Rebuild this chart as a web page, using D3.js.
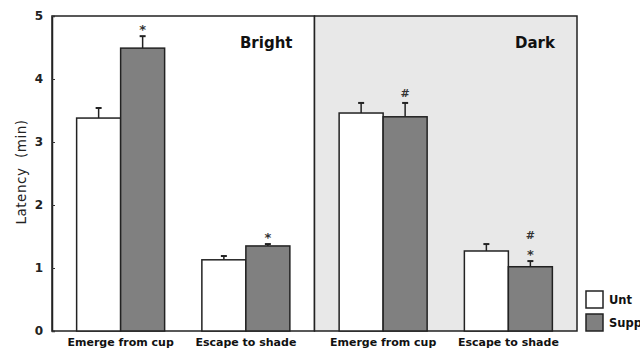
<!DOCTYPE html>
<html>
<head>
<meta charset="utf-8">
<script src="https://cdn.jsdelivr.net/npm/d3@7"></script>
<style>
  body { margin: 0; background: #fff; }
  text { font-family: "DejaVu Sans", Verdana, sans-serif; }
</style>
</head>
<body>
<div id="chart"></div>
<script>
const width = 640
const height = 351
const margin = { top: 16, right: 63, bottom: 20, left: 52 }
const chartW = width - margin.left - margin.right
const chartH = height - margin.top - margin.bottom

// data
const panels = ["Bright", "Dark"]
const tasks = ["Emerge from cup", "Escape to shade"]
const groups = ["Unt", "Supp"]
const untMean = [3.38, 1.13, 3.46, 1.27]
const untErr = [0.16, 0.06, 0.16, 0.11]
const suppMean = [4.49, 1.35, 3.40, 1.02]
const suppErr = [0.19, 0.03, 0.22, 0.09]
const suppMarks = [["*"], ["*"], ["#"], ["*", "#"]]
const yTicks = [0, 1, 2, 3, 4, 5]

let rows = []
panels.forEach((p, pi) => {
  tasks.forEach((t, ti) => {
    let i = pi * 2 + ti
    rows.push({ panel: p, task: t, group: "Unt", value: untMean[i], err: untErr[i], marks: [] })
    rows.push({ panel: p, task: t, group: "Supp", value: suppMean[i], err: suppErr[i], marks: suppMarks[i] })
  })
})

let svg = d3.select("#chart").append("svg")
    .attr("width", width)
    .attr("height", height)

let g = svg.append("g").attr("transform", `translate(${margin.left},${margin.top})`)

let yScale = d3.scaleLinear().domain([0, 5]).range([chartH, 0])
let panelScale = d3.scaleBand().domain(panels).range([0, chartW]).paddingInner(0).paddingOuter(0)
let taskScale = d3.scalePoint().domain(tasks).range([0, panelScale.bandwidth()]).padding(0.548)
let groupScale = d3.scaleBand().domain(groups).range([-44, 44])
let fill = d3.scaleOrdinal().domain(groups).range(["#ffffff", "#808080"])
let panelFill = d3.scaleOrdinal().domain(panels).range(["#ffffff", "#e8e8e8"])

// panel backgrounds
g.selectAll(".panel")
  .data(panels)
  .enter()
  .append("rect")
  .attr("x", d => panelScale(d))
  .attr("y", 0)
  .attr("width", panelScale.bandwidth())
  .attr("height", chartH)
  .attr("fill", d => panelFill(d))
  .attr("stroke", "#222")
  .attr("stroke-width", 1.5)

// panel titles
g.selectAll(".ptitle")
  .data(panels)
  .enter()
  .append("text")
  .attr("x", d => panelScale(d) + panelScale.bandwidth() - 22)
  .attr("y", 32)
  .attr("text-anchor", "end")
  .attr("font-size", 15)
  .attr("font-weight", "bold")
  .attr("fill", "#111")
  .text(d => d)

const xOf = d => panelScale(d.panel) + taskScale(d.task)

// error bars
let eb = g.append("g")
rows.forEach(d => {
  let cx = xOf(d) + groupScale(d.group) + groupScale.bandwidth() / 2
  eb.append("line")
    .attr("x1", cx).attr("x2", cx)
    .attr("y1", yScale(d.value)).attr("y2", yScale(d.value + d.err))
    .attr("stroke", "#222").attr("stroke-width", 1.5)
  eb.append("line")
    .attr("x1", cx - 3).attr("x2", cx + 3)
    .attr("y1", yScale(d.value + d.err)).attr("y2", yScale(d.value + d.err))
    .attr("stroke", "#222").attr("stroke-width", 2)
  d.marks.forEach((m, k) => {
    eb.append("text")
      .attr("x", cx)
      .attr("y", yScale(d.value + d.err) - 6 - k * 16 + (m == "*" ? 4 : 0))
      .attr("text-anchor", "middle")
      .attr("font-size", m == "*" ? 13 : 11)
      .attr("font-weight", "bold")
      .attr("fill", "#333")
      .text(m)
  })
})

// bars
g.append("g")
  .selectAll("rect")
  .data(rows)
  .enter()
  .append("rect")
  .attr("x", d => xOf(d) + groupScale(d.group))
  .attr("y", d => yScale(d.value))
  .attr("width", groupScale.bandwidth())
  .attr("height", d => chartH - yScale(d.value))
  .attr("fill", d => fill(d.group))
  .attr("stroke", "#222")
  .attr("stroke-width", 1.5)

// y axis
let yAxis = d3.axisRight(yScale).tickValues(yTicks).tickSize(3).tickFormat(d3.format("d"))
let ya = g.append("g").call(yAxis)
ya.select(".domain").attr("stroke", "#222").attr("stroke-width", 1.5)
ya.selectAll(".tick line").attr("stroke", "#333")
ya.selectAll(".tick text")
  .attr("x", -9)
  .attr("text-anchor", "end")
  .attr("font-size", 12)
  .attr("font-weight", "bold")
  .attr("fill", "#222")

// x category labels
let xl = g.append("g")
panels.forEach(p => {
  tasks.forEach(t => {
    xl.append("text")
      .attr("x", panelScale(p) + taskScale(t))
      .attr("y", chartH + 15)
      .attr("text-anchor", "middle")
      .attr("font-size", 11)
      .attr("font-weight", "bold")
      .attr("fill", "#111")
      .text(t)
  })
})

// y label
svg.append("text")
  .attr("transform", `translate(26,172) rotate(-90)`)
  .attr("text-anchor", "middle")
  .attr("font-size", 13.5)
  .attr("letter-spacing", 0.5)
  .attr("fill", "#222")
  .attr("xml:space", "preserve")
  .text("Latency  (min)")

// legend
let leg = svg.append("g").attr("transform", "translate(586,291)")
groups.forEach((k, i) => {
  leg.append("rect")
    .attr("x", 0).attr("y", i * 23)
    .attr("width", 17).attr("height", 17)
    .attr("fill", fill(k))
    .attr("stroke", "#222").attr("stroke-width", 1.5)
  leg.append("text")
    .attr("x", 23).attr("y", i * 23 + 13)
    .attr("font-size", 11.5)
    .attr("font-weight", "bold")
    .attr("fill", "#111")
    .text(k)
})
</script>
</body>
</html>
